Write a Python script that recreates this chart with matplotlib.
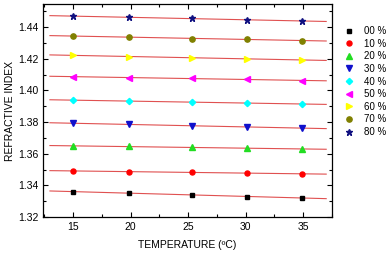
import numpy as np
import matplotlib
matplotlib.use("Agg")
import matplotlib.pyplot as plt
from matplotlib.ticker import MultipleLocator

plt.rcParams['font.family'] = ['Liberation Sans', 'DejaVu Sans']

# Data
temps = [15, 19.9, 25.3, 30.1, 34.9]
labels = ["00 %", "10 %", "20 %", "30 %", "40 %", "50 %", "60 %", "70 %", "80 %"]
n_00 = [1.3360, 1.3353, 1.3337, 1.3328, 1.3322]
n_10 = [1.3490, 1.3486, 1.3484, 1.3478, 1.3471]
n_20 = [1.3648, 1.3646, 1.3640, 1.3635, 1.3629]
n_30 = [1.3791, 1.3787, 1.3776, 1.3768, 1.3762]
n_40 = [1.3938, 1.3932, 1.3926, 1.3921, 1.3913]
n_50 = [1.4085, 1.4081, 1.4077, 1.4071, 1.4060]
n_60 = [1.4222, 1.4212, 1.4207, 1.4201, 1.4191]
n_70 = [1.4344, 1.4336, 1.4327, 1.4323, 1.4315]
n_80 = [1.4468, 1.4462, 1.4455, 1.4447, 1.4437]
series = [n_00, n_10, n_20, n_30, n_40, n_50, n_60, n_70, n_80]

markers = ['s', 'o', '^', 'v', 'D', '<', '>', 'o', '*']
colors = ['black', 'red', '#22dd22', '#1010cc', 'cyan', '#ff00ff', 'yellow', '#808000', '#101080']
sizes = [3.2, 3.6, 3.8, 3.8, 3.2, 3.8, 3.8, 3.8, 4.6]

fig = plt.figure(figsize=(3.91, 2.58), dpi=100)
ax = fig.add_axes([0.11, 0.159, 0.739, 0.825])

xfit = np.array([13.0, 37.0])
for vals, m, c, s, lab in zip(series, markers, colors, sizes, labels):
    p = np.polyfit(temps, vals, 1)
    ax.plot(xfit, np.polyval(p, xfit), color='#e05050', lw=0.8, zorder=1)
    ax.plot(temps, vals, ls='none', marker=m, color=c, ms=s, mec=c, label=lab, zorder=2)

ax.set_xlim(12.4, 37.5)
ax.set_ylim(1.32, 1.4545)
ax.xaxis.set_major_locator(MultipleLocator(5))
ax.xaxis.set_minor_locator(MultipleLocator(2.5))
ax.yaxis.set_major_locator(MultipleLocator(0.02))
ax.yaxis.set_minor_locator(MultipleLocator(0.01))
ax.yaxis.set_major_formatter(matplotlib.ticker.FormatStrFormatter('%.2f'))
ax.tick_params(which='both', direction='in', top=True, right=True, labelsize=7.5, width=0.8)
ax.tick_params(which='major', length=3.5)
ax.tick_params(which='minor', length=2)
for sp in ax.spines.values():
    sp.set_linewidth(0.9)

ax.set_xlabel("TEMPERATURE (ºC)", fontsize=7.5, labelpad=6)
ax.set_ylabel("REFRACTIVE INDEX", fontsize=7.5, va='center')
ax.yaxis.set_label_coords(-0.115, 0.5)

fig.legend(loc='upper left', bbox_to_anchor=(0.868, 0.918), frameon=False, fontsize=7,
           handlelength=1, handletextpad=1.0, labelspacing=0.27, borderpad=0)

fig.savefig("out.png", dpi=100)
